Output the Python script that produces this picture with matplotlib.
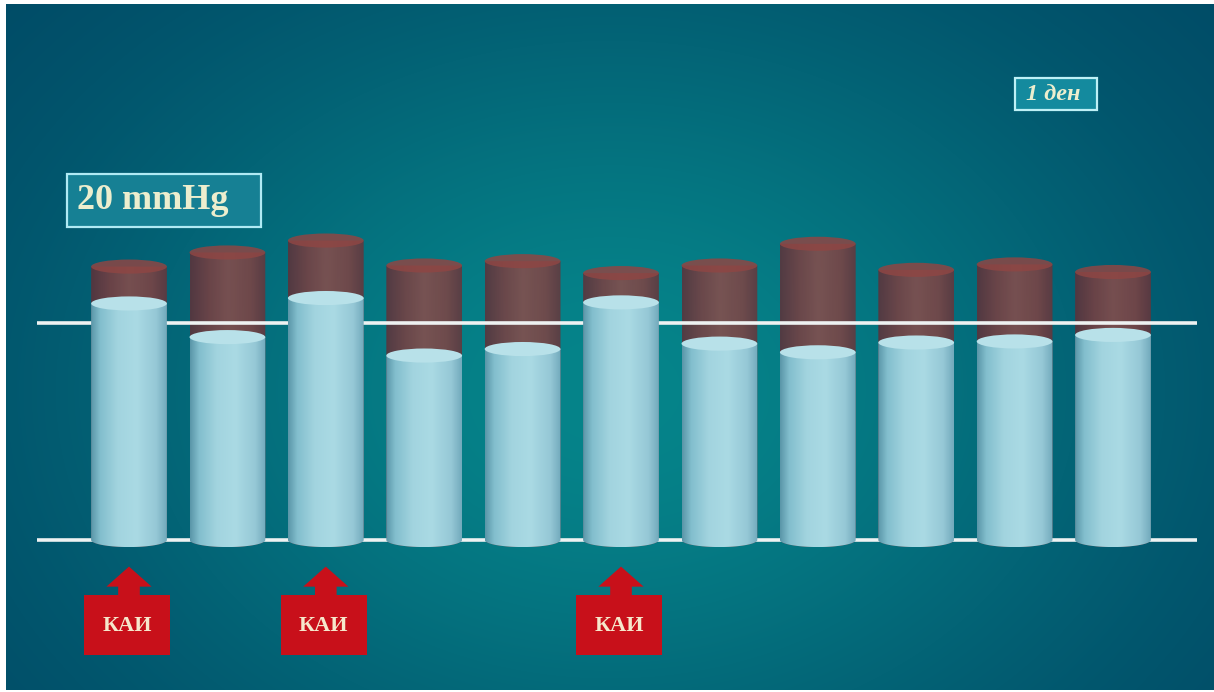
import numpy as np
import matplotlib
matplotlib.use("Agg")
import matplotlib.pyplot as plt
from matplotlib.patches import Ellipse, PathPatch, Rectangle, Polygon
from matplotlib.path import Path

# ------------------------------------------------------------
# data: pressure per session (mmHg), back = red, front = blue
# ------------------------------------------------------------
sessions = np.arange(11)
pressure_before = [25.2, 26.5, 27.6, 25.3, 25.7, 24.6, 25.3, 27.3, 24.9, 25.4, 24.7]
pressure_after = [21.8, 18.7, 22.3, 17.0, 17.6, 21.9, 18.1, 17.3, 18.2, 18.3, 18.9]
reference_levels = [0, 20]
kai_sessions = [0, 2, 5]
kai_label = "КАИ"
level_label = "20 mmHg"
period_label = "1 ден"

W, H = 1214, 692
fig = plt.figure(figsize=(W / 100, H / 100), dpi=100, facecolor="white")

# axes leaves a thin white margin on the left / top / bottom
ax_px = (6, 4, 1214, 690)   # left, top, right, bottom in pixels
ax = fig.add_axes([ax_px[0] / W, 1 - ax_px[3] / H,
                   (ax_px[2] - ax_px[0]) / W, (ax_px[3] - ax_px[1]) / H])
ax.set_axis_off()

# column spacing 98.4 px, 10.85 px per mmHg, baseline at y=540 px
x0_px, dx_px, base_px, mm_px = 129, 98.4, 540, 10.85
xlim = ((ax_px[0] - x0_px) / dx_px, (ax_px[2] - x0_px) / dx_px)
ylim = ((base_px - ax_px[3]) / mm_px, (base_px - ax_px[1]) / mm_px)


def rgb(*c):
    return tuple(v / 255 for v in c)


# ---- background: radial teal glow ----
gy, gx = np.mgrid[ax_px[1]:ax_px[3], ax_px[0]:ax_px[2]]
f = np.exp(-((gx - 610) / 560.0) ** 2 - ((gy - 390) / 420.0) ** 2)
dark = np.array([0, 68, 98]) / 255
bright = np.array([6, 132, 138]) / 255
bg = dark + (bright - dark) * f[..., None]
ax.imshow(bg, extent=[xlim[0], xlim[1], ylim[0], ylim[1]],
          aspect="auto", origin="upper", zorder=0)


def gradient(stops, n=200):
    pos = np.array([s[0] for s in stops])
    cols = np.array([s[1] for s in stops]) / 255
    t = np.linspace(0, 1, n)
    out = np.stack([np.interp(t, pos, cols[:, k]) for k in range(3)], axis=-1)
    return out[None, :, :]


blue_body = gradient([(0.0, (90, 150, 168)), (0.12, (130, 190, 205)),
                      (0.35, (162, 212, 223)), (0.6, (170, 218, 228)),
                      (0.86, (150, 200, 214)), (1.0, (114, 170, 188))])
red_body = gradient([(0.0, (96, 48, 56)), (0.25, (124, 62, 64)),
                     (0.5, (140, 76, 74)), (0.8, (130, 66, 66)),
                     (1.0, (104, 52, 58))])

col_w = 0.77
ell_h = 1.3


def cylinder(xc, h, body, top_fc, z, alpha=1.0):
    xl, xr = xc - col_w / 2, xc + col_w / 2
    th = np.linspace(np.pi, 2 * np.pi, 60)
    arc = np.column_stack([xc + col_w / 2 * np.cos(th), ell_h / 2 * np.sin(th)])
    verts = np.vstack([[xl, h], arc, [xr, h], [xl, h]])
    codes = [Path.MOVETO] + [Path.LINETO] * (len(verts) - 2) + [Path.CLOSEPOLY]
    clip = PathPatch(Path(verts, codes), fc="none", ec="none",
                     transform=ax.transData)
    ax.add_patch(clip)
    im = ax.imshow(body, extent=[xl, xr, -ell_h / 2, h], aspect="auto",
                   zorder=z, alpha=alpha, interpolation="bilinear")
    im.set_clip_path(clip)
    ax.add_patch(Ellipse((xc, h), col_w, ell_h, fc=top_fc, ec="none",
                         alpha=alpha, zorder=z + 0.1))


# red cylinders sit behind the reference lines
for x, v in zip(sessions, pressure_before):
    cylinder(x, v, red_body, rgb(142, 70, 68), 2, alpha=0.85)

# white reference lines (0 and 20 mmHg)
line_x0 = (37 - x0_px) / dx_px
line_x1 = (1197 - x0_px) / dx_px
ax.hlines(reference_levels, line_x0, line_x1, colors=[rgb(238, 242, 242)],
          linewidth=2.6, zorder=3)

# blue cylinders in front
for x, v in zip(sessions, pressure_after):
    cylinder(x, v, blue_body, rgb(184, 225, 233), 4)

# ---- КАИ markers under the selected sessions ----
kai_red = rgb(200, 16, 26)
box_w = 0.88
for s in kai_sessions:
    box_top, box_bot = -5.07, -10.6
    head_base, tip = -4.3, -2.45
    ax.add_patch(Rectangle((s - box_w / 2 - 0.02, box_bot), box_w, box_top - box_bot,
                           fc=kai_red, ec="none", zorder=5))
    arrow = [(s - 0.11, box_top), (s - 0.11, head_base), (s - 0.23, head_base),
             (s, tip), (s + 0.23, head_base), (s + 0.11, head_base),
             (s + 0.11, box_top)]
    ax.add_patch(Polygon(arrow, closed=True, fc=kai_red, ec="none", zorder=5))
    ax.text(s - 0.02, (box_top + box_bot) / 2 - 0.1, kai_label,
            family="Liberation Serif", weight="bold", fontsize=16,
            color=rgb(246, 232, 204), ha="center", va="center", zorder=6)

ax.set_xlim(*xlim)
ax.set_ylim(*ylim)


# ---- label boxes (pixel placed) ----
def label_box(l, t, r, b, text, tx, size, style, fc, ec):
    fig.add_artist(Rectangle((l / W, 1 - b / H), (r - l) / W, (b - t) / H,
                             transform=fig.transFigure, fc=fc, ec=ec,
                             linewidth=1.6, zorder=10))
    fig.text(tx / W, 1 - (t + b) / 2 / H, text, family="Liberation Serif",
             weight="bold", style=style, fontsize=size,
             color=rgb(236, 238, 206), ha="left", va="center", zorder=11)


label_box(67, 174, 261, 227, level_label, 77, 26, "normal",
          rgb(22, 128, 148), rgb(176, 234, 244))
label_box(1015, 78, 1097, 110, period_label, 1026, 17.5, "italic",
          rgb(20, 138, 158), rgb(190, 240, 246))

fig.savefig("out.png", dpi=100, facecolor="white")
